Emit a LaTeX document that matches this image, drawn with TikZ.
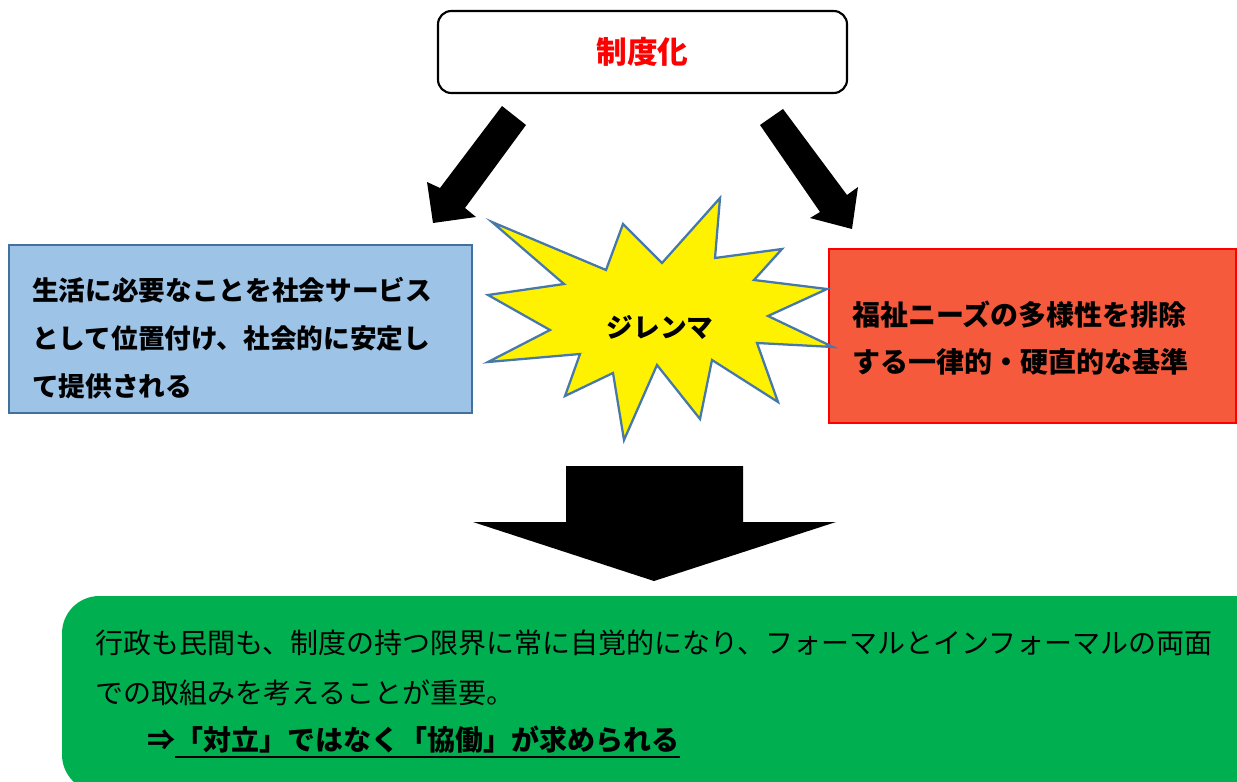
\documentclass[tikz,border=0pt]{standalone}
\usepackage{fontspec}
\setmainfont{Noto Sans CJK JP}
\definecolor{boxblue}{RGB}{157,195,230}
\definecolor{edgeblue}{RGB}{65,113,156}
\definecolor{boxred}{RGB}{245,90,60}
\definecolor{boxgreen}{RGB}{0,176,80}
\definecolor{burstedge}{RGB}{70,120,170}
\begin{document}
\begin{tikzpicture}[x=0.75pt,y=-0.75pt,
  txt/.style={inner sep=0pt,anchor=west,text=black},
  blockarrow/.style={fill=black,draw=none}]
\useasboundingbox (0,0) rectangle (1237,781);
% top box
\node[draw=black,line width=1.6pt,rounded corners=10pt,fill=white,
      minimum width=306.75pt,minimum height=61.5pt,inner sep=0pt,
      text=red,font=\fontsize{23}{28}\selectfont\bfseries] (top) at (642.5,52) {制度化};
% left arrow
\fill[blockarrow] (502,106) -- (440,188) -- (427,182) -- (433,223) -- (476,217) -- (465,208) -- (526,125) -- cycle;
% right arrow
\fill[blockarrow] (783,109) -- (847,195) -- (858,187) -- (852,229) -- (810,218) -- (820,212) -- (760,125) -- cycle;
% left box
\node[draw=edgeblue,line width=1.5pt,fill=boxblue,minimum width=347.25pt,
      minimum height=126pt,inner sep=0pt] (lbox) at (240.5,329) {};
\node[txt,font=\fontsize{20}{24}\selectfont\bfseries] (l1) at (32,290) {生活に必要なことを社会サービス};
\node[txt,font=\fontsize{20}{24}\selectfont\bfseries] (l2) at (32,338) {として位置付け、社会的に安定し};
\node[txt,font=\fontsize{20}{24}\selectfont\bfseries] (l3) at (32,386) {て提供される};
% right box
\node[draw=red,line width=1.5pt,fill=boxred,minimum width=305pt,
      minimum height=130.5pt,inner sep=0pt] (rbox) at (1032.5,336) {};
\node[txt,font=\fontsize{21}{24}\selectfont\bfseries] (r1) at (852,315) {福祉ニーズの多様性を排除};
\node[txt,font=\fontsize{21}{24}\selectfont\bfseries] (r2) at (852,362) {する一律的・硬直的な基準};
% starburst
\draw[fill=yellow,draw=burstedge,line width=1.7pt,line join=miter]
  (492,222) -- (606,270) -- (623,224) -- (662,263) -- (720,198) -- (715,258)
  -- (782,249) -- (754,280) -- (827,289) -- (768,316) -- (833,347) -- (757,343)
  -- (778,402) -- (712,360) -- (700,419) -- (657,365) -- (624,440) -- (613,373)
  -- (565,396) -- (580,354) -- (488,362) -- (550,330) -- (488,295) -- (564,284) -- cycle;
\node[inner sep=0pt,font=\fontsize{20}{24}\selectfont\bfseries] (dilemma) at (660,327) {ジレンマ};
% big down arrow
\fill[blockarrow] (566,466) -- (743,466) -- (743,522) -- (836,522) -- (654,581) -- (473,522) -- (566,522) -- cycle;
% green box
\fill[boxgreen,rounded corners=28pt] (62,596) rectangle (1280,792);
\node[txt,font=\fontsize{21}{24}\selectfont] (g1) at (95,643) {行政も民間も、制度の持つ限界に常に自覚的になり、フォーマルとインフォーマルの両面};
\node[txt,font=\fontsize{21}{24}\selectfont] (g2) at (95,693) {での取組みを考えることが重要。};
\node[txt,font=\fontsize{21}{24}\selectfont\bfseries] (g3a) at (147,740) {⇒};
\node[txt,font=\fontsize{21}{24}\selectfont\bfseries] (g3b) at (175,740) {「対立」ではなく「協働」が求められる};
\draw[line width=1.5pt] ([yshift=-2pt]g3b.south west) -- ([yshift=-2pt]g3b.south east);
\end{tikzpicture}
\end{document}
